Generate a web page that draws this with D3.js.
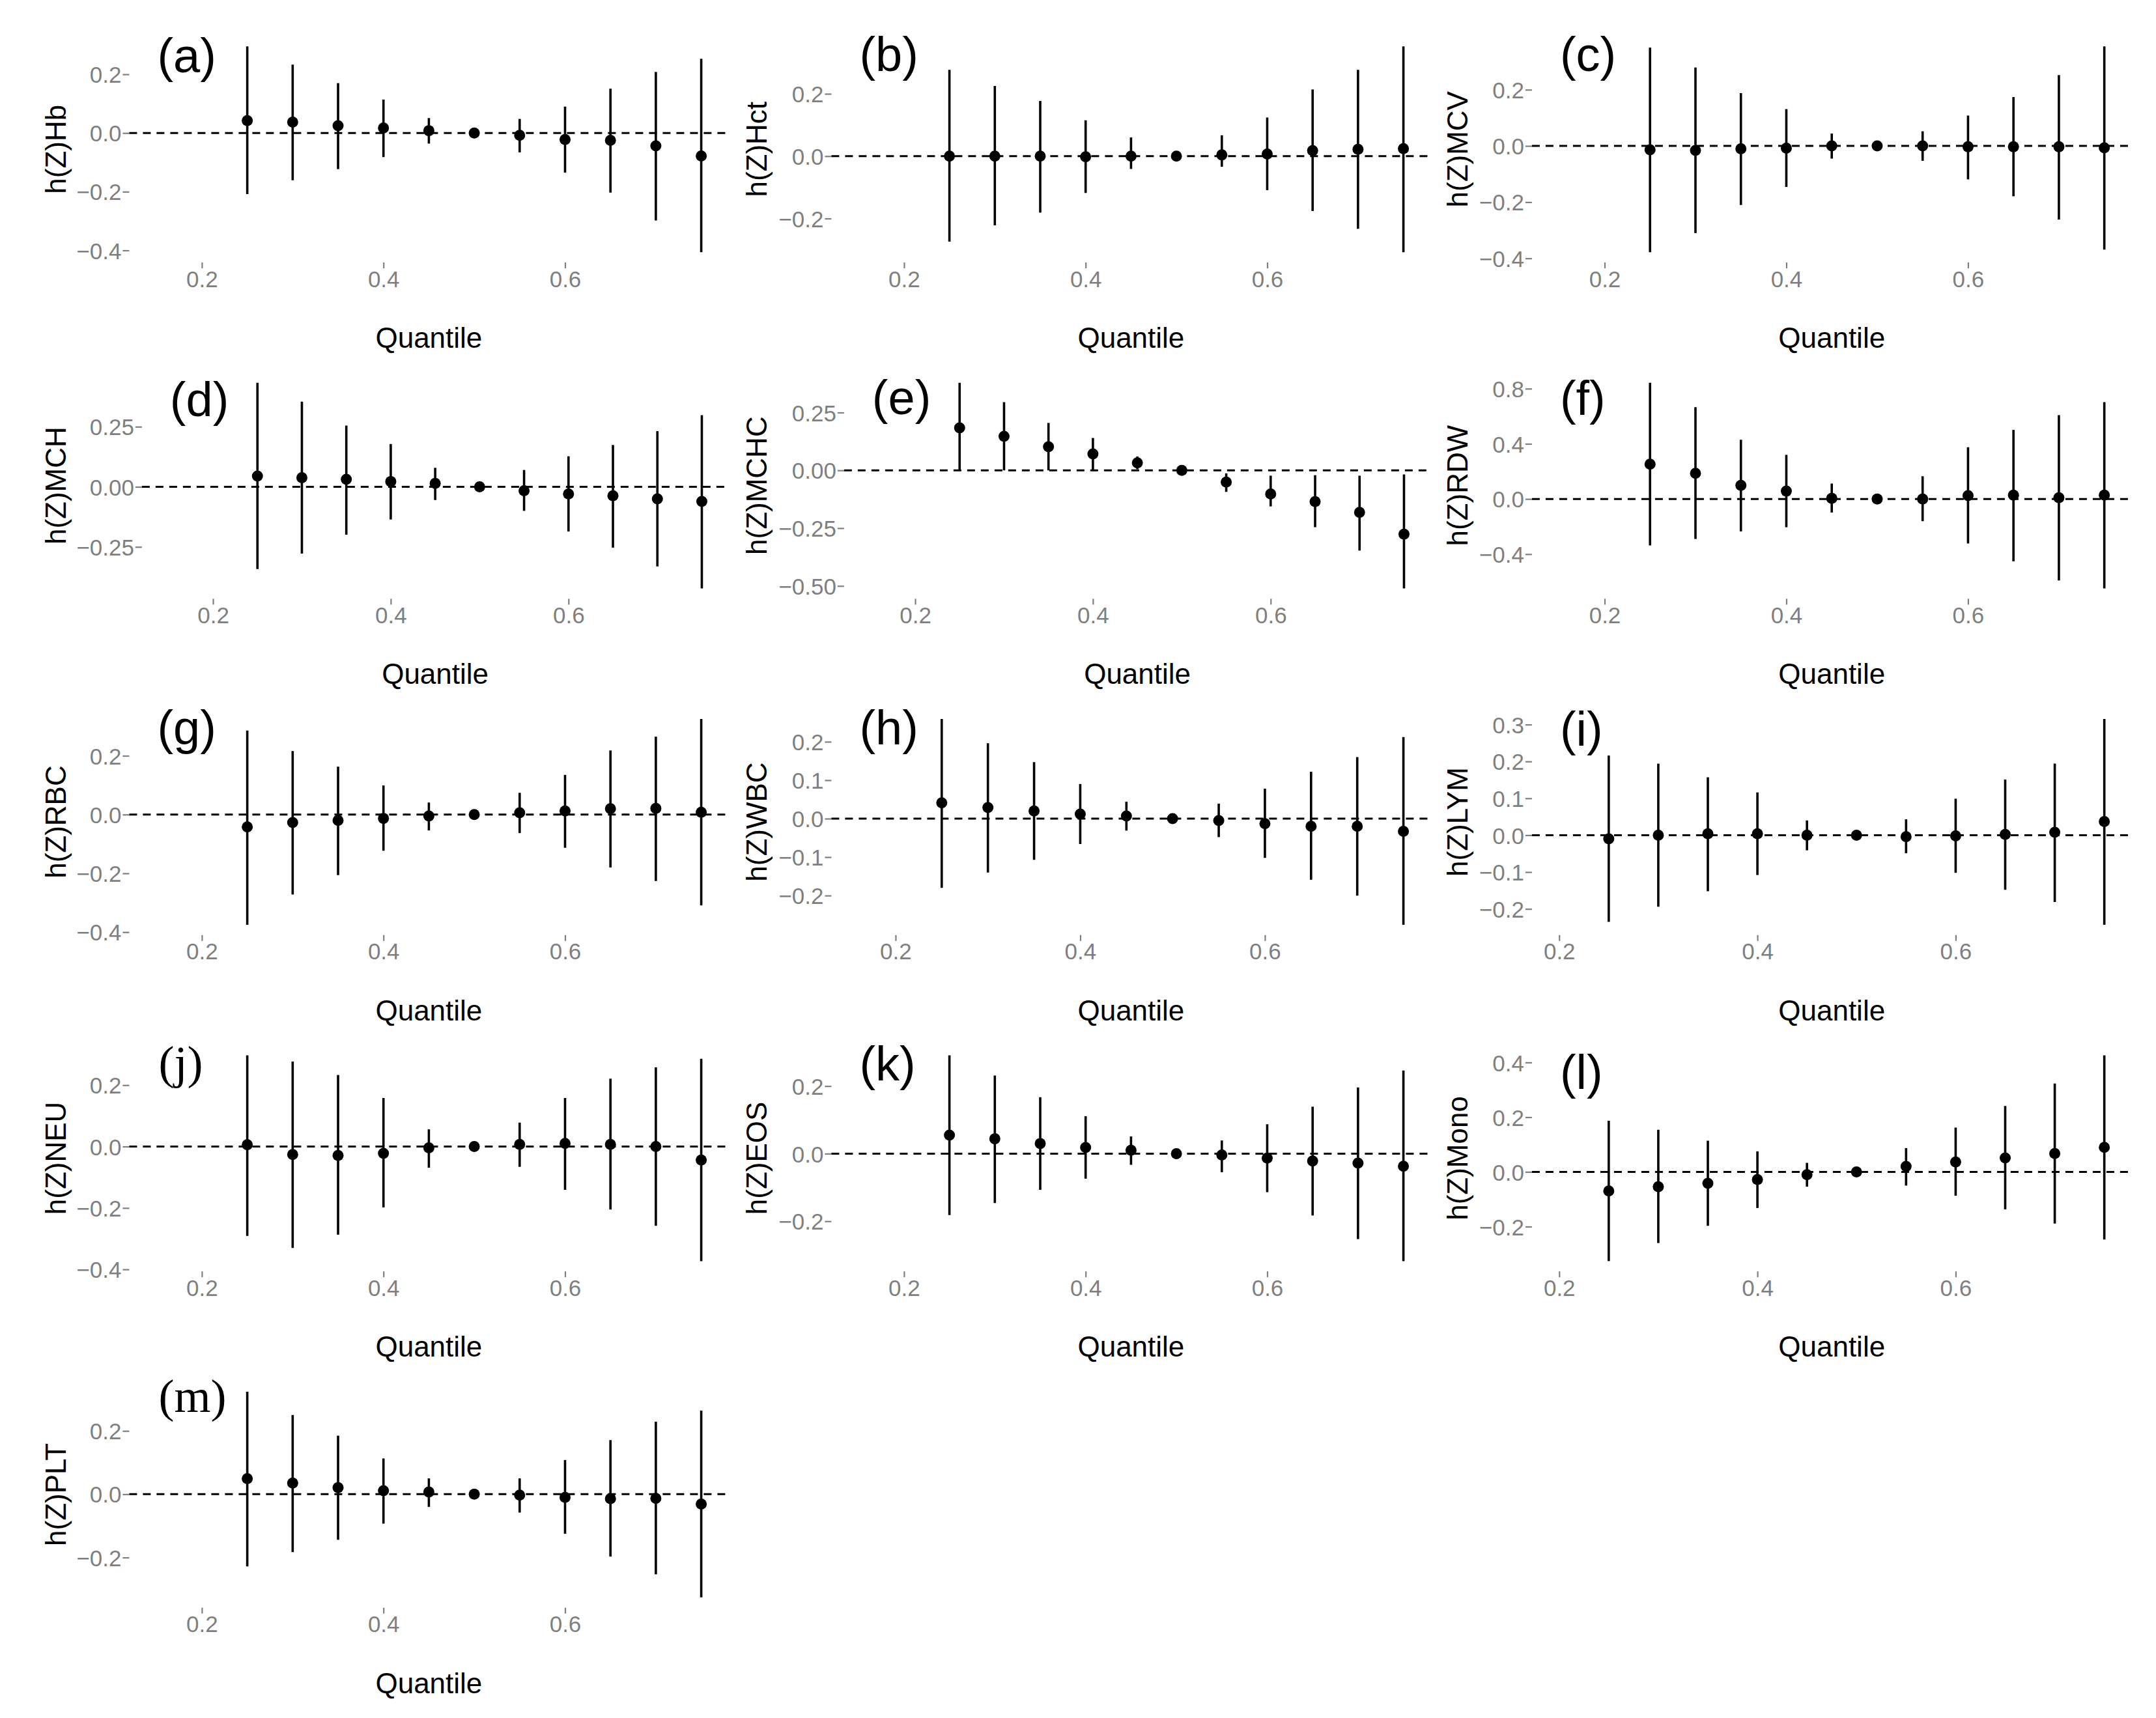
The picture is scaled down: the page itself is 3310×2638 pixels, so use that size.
<!DOCTYPE html>
<html><head><meta charset="utf-8">
<script src="https://cdn.jsdelivr.net/npm/d3@7"></script>
<style>body{margin:0;background:#fff}svg{display:block}</style>
</head><body>
<script>
// ---------- data ----------
const quantiles = [0.25,0.30,0.35,0.40,0.45,0.50,0.55,0.60,0.65,0.70,0.75];
const panelTags = ["(a)","(b)","(c)","(d)","(e)","(f)","(g)","(h)","(i)","(j)","(k)","(l)","(m)"];
const yTitles = ["h(Z)Hb","h(Z)Hct","h(Z)MCV","h(Z)MCH","h(Z)MCHC","h(Z)RDW","h(Z)RBC","h(Z)WBC","h(Z)LYM","h(Z)NEU","h(Z)EOS","h(Z)Mono","h(Z)PLT"];
const xTickValues = [0.2,0.4,0.6];
const xLabel = "Quantile";

const estHb = [0.042,0.037,0.025,0.017,0.008,0,-0.008,-0.022,-0.025,-0.044,-0.078];
const loHb  = [-0.208,-0.161,-0.123,-0.082,-0.036,0,-0.066,-0.135,-0.203,-0.298,-0.406];
const hiHb  = [0.295,0.233,0.170,0.114,0.051,0,0.048,0.090,0.151,0.208,0.253];

const estHct = [0,0,0,-0.002,0,0,0.004,0.007,0.018,0.022,0.024];
const loHct  = [-0.274,-0.222,-0.181,-0.118,-0.041,0,-0.034,-0.109,-0.176,-0.233,-0.308];
const hiHct  = [0.277,0.225,0.177,0.115,0.060,0,0.067,0.124,0.214,0.277,0.352];

const estMCV = [-0.014,-0.016,-0.010,-0.008,0,0,0,-0.003,-0.003,-0.003,-0.007];
const loMCV  = [-0.378,-0.310,-0.210,-0.146,-0.045,0,-0.053,-0.119,-0.179,-0.262,-0.369];
const hiMCV  = [0.350,0.279,0.188,0.131,0.044,0,0.052,0.108,0.174,0.252,0.354];

const estMCH = [0.045,0.038,0.031,0.022,0.014,0,-0.016,-0.030,-0.037,-0.050,-0.061];
const loMCH  = [-0.342,-0.278,-0.199,-0.136,-0.055,0,-0.100,-0.186,-0.253,-0.331,-0.423];
const hiMCH  = [0.433,0.354,0.255,0.178,0.079,0,0.070,0.127,0.174,0.232,0.298];

const estMCHC = [0.184,0.147,0.102,0.071,0.032,0,-0.051,-0.102,-0.135,-0.182,-0.276];
const loMCHC  = [0,0,0,0,0.005,0,-0.093,-0.156,-0.246,-0.347,-0.511];
const hiMCHC  = [0.379,0.295,0.205,0.140,0.060,0,-0.013,-0.023,-0.021,-0.023,-0.018];

const estRDW = [0.252,0.186,0.099,0.057,0.005,0,0,0.025,0.028,0.009,0.028];
const loRDW  = [-0.337,-0.290,-0.235,-0.205,-0.098,0,-0.161,-0.323,-0.452,-0.591,-0.649];
const hiRDW  = [0.843,0.666,0.430,0.320,0.112,0,0.165,0.375,0.501,0.608,0.702];

const estRBC = [-0.042,-0.027,-0.020,-0.013,-0.005,0,0.006,0.012,0.020,0.021,0.008];
const loRBC  = [-0.375,-0.272,-0.206,-0.123,-0.054,0,-0.063,-0.113,-0.180,-0.226,-0.309];
const hiRBC  = [0.286,0.216,0.163,0.099,0.041,0,0.074,0.135,0.218,0.265,0.325];

const estWBC = [0.041,0.029,0.020,0.012,0.007,0,-0.005,-0.013,-0.020,-0.020,-0.033];
const loWBC  = [-0.180,-0.140,-0.107,-0.066,-0.031,0,-0.048,-0.102,-0.159,-0.200,-0.276];
const hiWBC  = [0.259,0.196,0.147,0.090,0.044,0,0.039,0.078,0.122,0.160,0.212];

const estLYM = [-0.010,0,0.004,0.004,0,0,-0.004,-0.002,0.002,0.008,0.037];
const loLYM  = [-0.235,-0.194,-0.152,-0.108,-0.041,0,-0.049,-0.102,-0.148,-0.181,-0.243];
const hiLYM  = [0.216,0.194,0.157,0.116,0.040,0,0.043,0.099,0.151,0.194,0.315];

const estNEU = [0.006,-0.026,-0.029,-0.022,-0.004,0,0.007,0.010,0.007,0,-0.044];
const loNEU  = [-0.291,-0.330,-0.287,-0.198,-0.069,0,-0.066,-0.141,-0.205,-0.258,-0.373];
const hiNEU  = [0.297,0.277,0.233,0.158,0.056,0,0.078,0.158,0.221,0.258,0.286];

const estEOS = [0.055,0.044,0.030,0.018,0.010,0,-0.004,-0.013,-0.022,-0.028,-0.037];
const loEOS  = [-0.182,-0.146,-0.107,-0.074,-0.033,0,-0.055,-0.114,-0.183,-0.253,-0.318];
const hiEOS  = [0.291,0.231,0.167,0.111,0.051,0,0.039,0.087,0.139,0.196,0.246];

const estMono = [-0.070,-0.054,-0.042,-0.028,-0.010,0,0.020,0.036,0.051,0.067,0.090];
const loMono  = [-0.326,-0.260,-0.197,-0.132,-0.054,0,-0.050,-0.087,-0.137,-0.189,-0.247];
const hiMono  = [0.187,0.154,0.114,0.075,0.033,0,0.087,0.162,0.241,0.323,0.426];

const estPLT = [0.049,0.035,0.021,0.011,0.007,0,-0.003,-0.010,-0.014,-0.013,-0.031];
const loPLT  = [-0.228,-0.183,-0.144,-0.093,-0.040,0,-0.058,-0.125,-0.197,-0.253,-0.326];
const hiPLT  = [0.324,0.250,0.185,0.113,0.050,0,0.050,0.108,0.171,0.229,0.264];

const yTickValues = [
  [-0.4,-0.2,0,0.2], [-0.2,0,0.2], [-0.4,-0.2,0,0.2],
  [-0.25,0,0.25], [-0.5,-0.25,0,0.25], [-0.4,0,0.4,0.8],
  [-0.4,-0.2,0,0.2], [-0.2,-0.1,0,0.1,0.2], [-0.2,-0.1,0,0.1,0.2,0.3],
  [-0.4,-0.2,0,0.2], [-0.2,0,0.2], [-0.2,0,0.2,0.4],
  [-0.2,0,0.2]
];
const yTickDecimals = [1,1,1, 2,2,1, 1,1,1, 1,1,1, 1];
// x limits used before ggplot's 5% expansion
const xLimits = [
  [0.15,0.75],[0.15,0.75],[0.15,0.75],
  [0.15,0.75],[0.15,0.75],[0.15,0.75],
  [0.15,0.75],[0.16,0.75],[0.20,0.75],
  [0.15,0.75],[0.15,0.75],[0.20,0.75],
  [0.15,0.75]
];

const series = [
  [estHb,loHb,hiHb],[estHct,loHct,hiHct],[estMCV,loMCV,hiMCV],
  [estMCH,loMCH,hiMCH],[estMCHC,loMCHC,hiMCHC],[estRDW,loRDW,hiRDW],
  [estRBC,loRBC,hiRBC],[estWBC,loWBC,hiWBC],[estLYM,loLYM,hiLYM],
  [estNEU,loNEU,hiNEU],[estEOS,loEOS,hiEOS],[estMono,loMono,hiMono],
  [estPLT,loPLT,hiPLT]
];

// ---------- layout ----------
const W = 3310, H = 2638;
const colRight = [1118.4, 2196.4, 3272.5];
const colLabelLeft = [117.3, 1195.3, 2270.8];
const colTitleX = [101, 1176.5, 2252.5];
const rowTop0 = 55.5, rowPitch = 516.4, panelH = 347.5;
const tagDy = [1.5,0,0, 13,10,11.5, 1,1,3, 2,0,13, -3];
const tagSerif = [false,false,false, false,false,false, false,false,false, true,false,false, true];

const axisFont = "'Liberation Sans', Arial, sans-serif";
const serifFont = "'Liberation Serif', 'Times New Roman', serif";
const axisTextSize = 35, titleSize = 44;
const greyText = "#7f7f7f", greyTick = "#7f7f7f";

const svg = d3.select("body").append("svg").attr("width", W).attr("height", H)
  .style("background", "#fff");

function expand(lo, hi, m = 0.05) { const r = hi - lo; return [lo - r*m, hi + r*m]; }

const measure = svg.append("text").attr("font-family", axisFont).attr("font-size", axisTextSize)
  .attr("visibility", "hidden");
function textW(s) { measure.text(s); return measure.node().getComputedTextLength(); }

series.forEach((s, i) => {
  const [est, lo, hi] = s;
  const col = i % 3, row = Math.floor(i / 3);
  const top = rowTop0 + rowPitch * row, bottom = top + panelH;
  const fmt = d3.format("." + yTickDecimals[i] + "f");
  const yLabs = yTickValues[i].map(fmt);
  const maxW = d3.max(yLabs, textW);
  const left = colLabelLeft[col] + maxW + 12;
  const right = colRight[col];

  const x = d3.scaleLinear().domain(expand(...xLimits[i])).range([left, right]);
  const all = est.concat(lo, hi, [0]);
  const y = d3.scaleLinear().domain(expand(d3.min(all), d3.max(all))).range([bottom, top]);

  const g = svg.append("g");

  const yAxis = d3.axisLeft(y).tickValues(yTickValues[i]).tickFormat(fmt).tickSize(10).tickPadding(2);
  const ya = g.append("g").attr("transform", `translate(${left},0)`).call(yAxis);
  ya.select(".domain").remove();
  ya.selectAll(".tick line").attr("stroke", greyTick).attr("stroke-width", 2.2);
  ya.selectAll(".tick text").attr("fill", greyText).attr("font-family", axisFont)
    .attr("font-size", axisTextSize).attr("dy", "0.36em");

  const xAxis = d3.axisBottom(x).tickValues(xTickValues).tickFormat(d3.format(".1f")).tickSize(9).tickPadding(4);
  const xa = g.append("g").attr("transform", `translate(0,${bottom})`).call(xAxis);
  xa.select(".domain").remove();
  xa.selectAll(".tick line").attr("stroke", greyTick).attr("stroke-width", 2.2);
  xa.selectAll(".tick text").attr("fill", greyText).attr("font-family", axisFont)
    .attr("font-size", axisTextSize).attr("dy", 0).attr("y", 37.5);

  g.append("text").attr("x", (left + right) / 2).attr("y", bottom + 131)
    .attr("text-anchor", "middle").attr("font-family", axisFont).attr("font-size", titleSize)
    .attr("fill", "#000").text(xLabel);
  g.append("text")
    .attr("transform", `translate(${colTitleX[col]},${(top + bottom) / 2}) rotate(-90)`)
    .attr("text-anchor", "middle").attr("font-family", axisFont).attr("font-size", titleSize)
    .attr("fill", "#000").text(yTitles[i]);

  g.append("line").attr("x1", left).attr("x2", right).attr("y1", y(0)).attr("y2", y(0))
    .attr("stroke", "#000").attr("stroke-width", 3).attr("stroke-dasharray", "12,9");

  g.selectAll("line.err").data(quantiles).join("line").attr("class", "err")
    .attr("x1", d => x(d)).attr("x2", d => x(d))
    .attr("y1", (d, k) => y(lo[k])).attr("y2", (d, k) => y(hi[k]))
    .attr("stroke", "#000").attr("stroke-width", 3.6);

  g.selectAll("circle").data(quantiles).join("circle")
    .attr("cx", d => x(d)).attr("cy", (d, k) => y(est[k])).attr("r", 8.5).attr("fill", "#000");

  const serif = tagSerif[i];
  const tSize = serif ? 72 : 74;
  const ascent = serif ? 0.69 : 0.728;
  g.append("text").attr("x", left + (serif ? 45 : 43)).attr("y", top + tagDy[i] + tSize * ascent)
    .attr("font-family", serif ? serifFont : axisFont).attr("font-size", tSize)
    .attr("fill", "#000").text(panelTags[i]);
});
measure.remove();
</script>
</body></html>
